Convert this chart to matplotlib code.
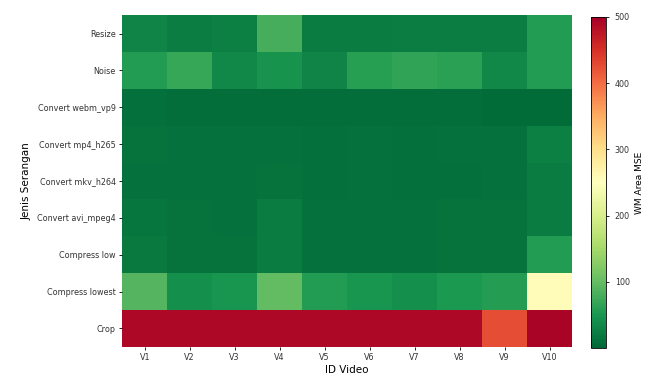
import numpy as np
import matplotlib
matplotlib.use('Agg')
import matplotlib.pyplot as plt

videos = ['V1', 'V2', 'V3', 'V4', 'V5', 'V6', 'V7', 'V8', 'V9', 'V10']
attacks = ['Resize', 'Noise', 'Convert webm_vp9', 'Convert mp4_h265', 'Convert mkv_h264',
           'Convert avi_mpeg4', 'Compress low', 'Compress lowest', 'Crop']

resize = [30, 22, 25, 80, 20, 20, 22, 22, 22, 55]
noise = [55, 70, 35, 45, 30, 60, 65, 62, 35, 55]
webm_vp9 = [8, 7, 7, 7, 7, 7, 7, 7, 5, 5]
mp4_h265 = [12, 10, 10, 10, 9, 10, 9, 10, 10, 25]
mkv_h264 = [10, 10, 10, 12, 9, 10, 9, 9, 10, 20]
avi_mpeg4 = [15, 12, 10, 20, 10, 10, 10, 12, 12, 20]
compress_low = [18, 12, 12, 20, 10, 10, 10, 12, 12, 55]
compress_lowest = [88, 42, 48, 98, 55, 48, 42, 52, 58, 255]
crop = [492, 492, 492, 492, 492, 492, 492, 492, 425, 495]

data = np.array([resize, noise, webm_vp9, mp4_h265, mkv_h264, avi_mpeg4,
                 compress_low, compress_lowest, crop])

fig = plt.figure(figsize=(6.5, 3.77), dpi=100)
ax = fig.add_axes([0.188, 0.08, 0.692, 0.88])
cax = fig.add_axes([0.909, 0.077, 0.024, 0.878])

im = ax.pcolormesh(data, cmap='RdYlGn_r', vmin=0, vmax=500)
ax.set_xlim(0, len(videos))
ax.set_ylim(len(attacks), 0)
ax.set_xticks(np.arange(len(videos)) + 0.5)
ax.set_xticklabels(videos, fontsize=5.8, color='#333333')
ax.set_yticks(np.arange(len(attacks)) + 0.5)
ax.set_yticklabels(attacks, fontsize=5.8, color='#333333')
ax.tick_params(length=2.5, width=0.6, pad=2)
for s in ax.spines.values():
    s.set_visible(False)
ax.set_xlabel('ID Video', fontsize=7.5, labelpad=2)
ax.set_ylabel('Jenis Serangan', fontsize=7.5, labelpad=4)

cb = fig.colorbar(im, cax=cax)
cb.set_ticks([100, 200, 300, 400, 500])
cb.ax.tick_params(labelsize=5.8, length=2.5, width=0.6, labelcolor='#333333')
cb.outline.set_linewidth(0.6)
cb.set_label('WM Area MSE', fontsize=6.5, labelpad=4)

fig.savefig('out.png', dpi=100)
